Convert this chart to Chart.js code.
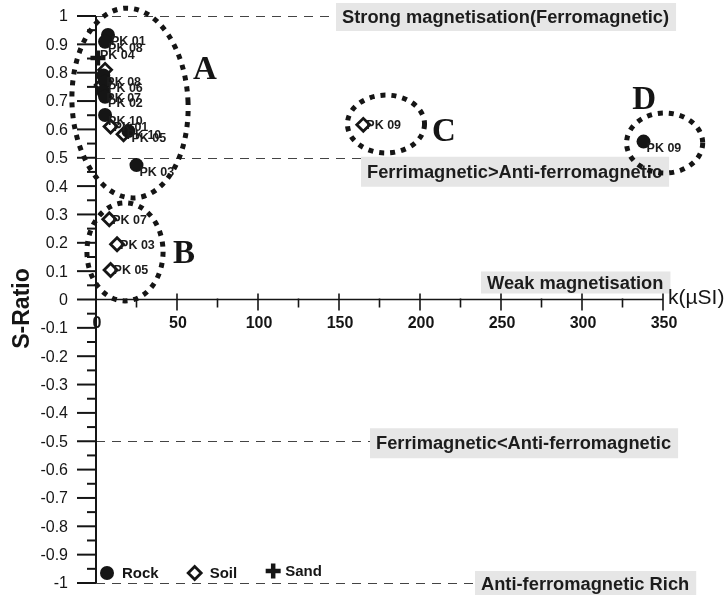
<!DOCTYPE html>
<html>
<head>
<meta charset="utf-8">
<script src="https://cdn.jsdelivr.net/npm/chart.js@4.4.0/dist/chart.umd.min.js"></script>
<style>
  html, body { margin: 0; padding: 0; background: #ffffff; }
  #wrap { width: 725px; height: 595px; position: relative; }
</style>
</head>
<body>
<div id="wrap"><canvas id="c" width="725" height="595"></canvas></div>
<script>
// ---------- DATA ----------
const rockK = [7.4, 5.6, 4.5, 5.6, 4.5, 5.6, 5.6, 20, 25, 338];
const rockS = [0.933, 0.909, 0.79, 0.768, 0.733, 0.715, 0.651, 0.594, 0.474, 0.557];
const rockNames = ['PK 01', 'PK 08', 'PK 08', 'PK 06', 'PK 07', 'PK 02', 'PK 10', 'PK 05', 'PK 03', 'PK 09'];

const soilK = [5.6, 3.5, 9, 17, 8.2, 13, 9, 165];
const soilS = [0.81, 0.757, 0.61, 0.583, 0.283, 0.195, 0.104, 0.616];
const soilNames = ['', '', 'PK 01', 'PK 10', 'PK 07', 'PK 03', 'PK 05', 'PK 09'];

const sandK = [1.2];
const sandS = [0.852];
const sandNames = ['PK 04'];

const kTicks = [0, 50, 100, 150, 200, 250, 300, 350];
const sTicks = [1, 0.9, 0.8, 0.7, 0.6, 0.5, 0.4, 0.3, 0.2, 0.1, 0, -0.1, -0.2, -0.3, -0.4, -0.5, -0.6, -0.7, -0.8, -0.9, -1];
const sTickLabels = ['1', '0.9', '0.8', '0.7', '0.6', '0.5', '0.4', '0.3', '0.2', '0.1', '0', '-0.1', '-0.2', '-0.3', '-0.4', '-0.5', '-0.6', '-0.7', '-0.8', '-0.9', '-1'];

const levelValues = [1, 0.5, 0, -0.5, -1];
const levelTexts = ['Strong magnetisation(Ferromagnetic)', 'Ferrimagnetic>Anti-ferromagnetic', 'Weak magnetisation', 'Ferrimagnetic<Anti-ferromagnetic', 'Anti-ferromagnetic Rich'];

const groupLetters = ['A', 'B', 'C', 'D'];
// group ellipses in data units: centre k, centre S, half-width k, half-height S
const groupCx = [21, 17.9, 179, 351];
const groupCy = [0.693, 0.168, 0.619, 0.552];
const groupRx = [35.8, 23.5, 23.8, 23.5];
const groupRy = [0.335, 0.173, 0.102, 0.106];
const letterK = [67.3, 54.3, 214.8, 338.3];
const letterS = [0.81, 0.164, 0.594, 0.707];

// ---------- STYLE / LAYOUT ----------
const SANS = '"Liberation Sans", Arial, Helvetica, sans-serif';
const SERIF = '"Liberation Serif", "Times New Roman", serif';
const INK = '#151515';
// per-level label box layout (px): text left, text centre offset from line, box height
const levelLayout = [
  { x: 342, dy: 1, h: 28 },
  { x: 367, dy: 14, h: 30 },
  { x: 487, dy: -17, h: 22 },
  { x: 376, dy: 2, h: 30 },
  { x: 481, dy: 1, h: 26 }
];

function toPts(xs, ys) { return xs.map((x, i) => ({ x: x, y: ys[i] })); }

const decorPlugin = {
  id: 'decor',
  beforeDatasetsDraw(chart) {
    const ctx = chart.ctx;
    const xs = chart.scales.x, ys = chart.scales.y;
    const x0 = xs.getPixelForValue(0);
    const y0 = ys.getPixelForValue(0);
    ctx.save();
    ctx.font = 'bold 18.3px ' + SANS;
    const textWidths = levelTexts.map(t => ctx.measureText(t).width);

    // dashed level lines
    ctx.strokeStyle = '#444';
    ctx.lineWidth = 1;
    ctx.setLineDash([9, 7]);
    levelValues.forEach((v, i) => {
      if (v === 0) return;
      const py = Math.round(ys.getPixelForValue(v)) + 0.5;
      ctx.beginPath();
      ctx.moveTo(x0, py);
      ctx.lineTo(levelLayout[i].x - 5, py);
      ctx.stroke();
    });
    ctx.setLineDash([]);

    // label boxes
    levelValues.forEach((v, i) => {
      const L = levelLayout[i];
      const cy = ys.getPixelForValue(v) + L.dy;
      ctx.fillStyle = '#e6e6e6';
      ctx.fillRect(L.x - 6, cy - L.h / 2, textWidths[i] + 13, L.h);
      ctx.fillStyle = '#1c1c1c';
      ctx.textAlign = 'left';
      ctx.textBaseline = 'middle';
      ctx.fillText(levelTexts[i], L.x, cy + 1);
    });

    // axes
    ctx.strokeStyle = INK;
    ctx.lineWidth = 2;
    ctx.beginPath();
    ctx.moveTo(x0, ys.getPixelForValue(1));
    ctx.lineTo(x0, ys.getPixelForValue(-1));
    ctx.stroke();
    ctx.lineWidth = 1.6;
    ctx.beginPath();
    ctx.moveTo(x0, y0);
    ctx.lineTo(xs.getPixelForValue(350), y0);
    ctx.stroke();

    // y ticks
    ctx.lineWidth = 2;
    sTicks.forEach((v, i) => {
      const py = ys.getPixelForValue(v);
      ctx.beginPath(); ctx.moveTo(x0 - 19, py); ctx.lineTo(x0, py); ctx.stroke();
      if (i < sTicks.length - 1) {
        const pm = ys.getPixelForValue((v + sTicks[i + 1]) / 2);
        ctx.beginPath(); ctx.moveTo(x0 - 9, pm); ctx.lineTo(x0, pm); ctx.stroke();
      }
    });
    // x ticks
    ctx.lineWidth = 1.6;
    kTicks.forEach((v, i) => {
      const px = xs.getPixelForValue(v);
      if (v !== 0) {
        ctx.beginPath(); ctx.moveTo(px, y0 - 6); ctx.lineTo(px, y0 + 11); ctx.stroke();
      }
      if (i < kTicks.length - 1) {
        const pm = xs.getPixelForValue((v + kTicks[i + 1]) / 2);
        ctx.beginPath(); ctx.moveTo(pm, y0 - 1); ctx.lineTo(pm, y0 + 8); ctx.stroke();
      }
    });

    // tick labels
    ctx.fillStyle = INK;
    ctx.font = '16px ' + SANS;
    ctx.textAlign = 'right';
    ctx.textBaseline = 'middle';
    sTicks.forEach((v, i) => {
      ctx.fillText(sTickLabels[i], x0 - 28, ys.getPixelForValue(v) + 1);
    });
    ctx.font = 'bold 16px ' + SANS;
    ctx.textAlign = 'center';
    kTicks.forEach(v => {
      ctx.fillText(String(v), xs.getPixelForValue(v) + 1, y0 + 24);
    });

    // axis titles
    ctx.font = '21px ' + SANS;
    ctx.textAlign = 'left';
    ctx.fillText('k(\u00b5SI)', xs.getPixelForValue(350) + 5, y0 - 1);
    ctx.save();
    ctx.translate(23, y0 + 9);
    ctx.rotate(-Math.PI / 2);
    ctx.font = 'bold 23px ' + SANS;
    ctx.textAlign = 'center';
    ctx.fillText('S-Ratio', 0, 0);
    ctx.restore();

    // group ellipses (dotted)
    ctx.strokeStyle = INK;
    ctx.lineWidth = 5;
    ctx.setLineDash([5, 6]);
    groupCx.forEach((cx, i) => {
      const px = xs.getPixelForValue(cx);
      const py = ys.getPixelForValue(groupCy[i]);
      const rx = Math.abs(xs.getPixelForValue(cx + groupRx[i]) - px);
      const ry = Math.abs(ys.getPixelForValue(groupCy[i] + groupRy[i]) - py);
      ctx.beginPath();
      ctx.ellipse(px, py, rx, ry, i === 0 ? -0.05 : 0, 0, Math.PI * 2);
      ctx.stroke();
    });
    ctx.setLineDash([]);

    // group letters
    ctx.fillStyle = INK;
    ctx.font = 'bold 33px ' + SERIF;
    ctx.textAlign = 'center';
    ctx.textBaseline = 'middle';
    groupLetters.forEach((t, i) => {
      ctx.fillText(t, xs.getPixelForValue(letterK[i]), ys.getPixelForValue(letterS[i]) + 1);
    });
    ctx.restore();
  },
  afterDatasetsDraw(chart) {
    const ctx = chart.ctx;
    ctx.save();
    ctx.fillStyle = '#1c1c1c';
    ctx.font = 'bold 12.5px ' + SANS;
    ctx.textAlign = 'left';
    ctx.textBaseline = 'middle';
    const offsets = [[3, 7], [3, 1], [2, -2]];
    const names = [rockNames, soilNames, sandNames];
    chart.data.datasets.forEach((ds, di) => {
      const meta = chart.getDatasetMeta(di);
      meta.data.forEach((el, j) => {
        const t = names[di][j];
        if (!t) return;
        ctx.fillText(t, el.x + offsets[di][0], el.y + offsets[di][1]);
      });
    });

    // legend
    const ly = 573;
    let lx = 107;
    ctx.font = 'bold 15px ' + SANS;
    chart.data.datasets.forEach((ds, di) => {
      ctx.fillStyle = INK;
      ctx.strokeStyle = INK;
      if (di === 0) {
        ctx.beginPath(); ctx.arc(lx, ly, 7, 0, Math.PI * 2); ctx.fill();
      } else if (di === 1) {
        ctx.fillStyle = '#fff';
        ctx.lineWidth = 2.8;
        ctx.beginPath();
        ctx.moveTo(lx, ly - 6.5); ctx.lineTo(lx + 6.5, ly); ctx.lineTo(lx, ly + 6.5); ctx.lineTo(lx - 6.5, ly);
        ctx.closePath(); ctx.fill(); ctx.stroke();
      } else {
        ctx.lineWidth = 4.5;
        ctx.beginPath();
        ctx.moveTo(lx - 7.5, ly - 2); ctx.lineTo(lx + 7.5, ly - 2);
        ctx.moveTo(lx, ly - 9.5); ctx.lineTo(lx, ly + 5.5);
        ctx.stroke();
      }
      ctx.fillStyle = INK;
      const ty = di === 2 ? ly - 1 : ly + 1;
      ctx.fillText(ds.label, lx + (di === 2 ? 12 : 15), ty);
      lx += 15 + ctx.measureText(ds.label).width + 36;
    });
    ctx.restore();
  }
};

new Chart(document.getElementById('c'), {
  type: 'scatter',
  data: {
    datasets: [
      {
        label: 'Rock',
        data: toPts(rockK, rockS),
        pointStyle: 'circle',
        pointRadius: 7,
        backgroundColor: INK,
        borderColor: INK,
        borderWidth: 0,
        clip: false
      },
      {
        label: 'Soil',
        data: toPts(soilK, soilS),
        pointStyle: 'rectRot',
        pointRadius: 6.5,
        backgroundColor: '#ffffff',
        borderColor: INK,
        borderWidth: 2.8,
        clip: false
      },
      {
        label: 'Sand',
        data: toPts(sandK, sandS),
        pointStyle: 'cross',
        pointRadius: 7.5,
        backgroundColor: INK,
        borderColor: INK,
        borderWidth: 4.5,
        clip: false
      }
    ]
  },
  options: {
    responsive: false,
    devicePixelRatio: 1,
    animation: false,
    layout: { padding: { left: 96, right: 62, top: 16, bottom: 12 } },
    plugins: { legend: { display: false }, tooltip: { enabled: false } },
    scales: {
      x: { type: 'linear', min: 0, max: 350, display: false },
      y: { type: 'linear', min: -1, max: 1, display: false }
    }
  },
  plugins: [decorPlugin]
});
</script>
</body>
</html>
